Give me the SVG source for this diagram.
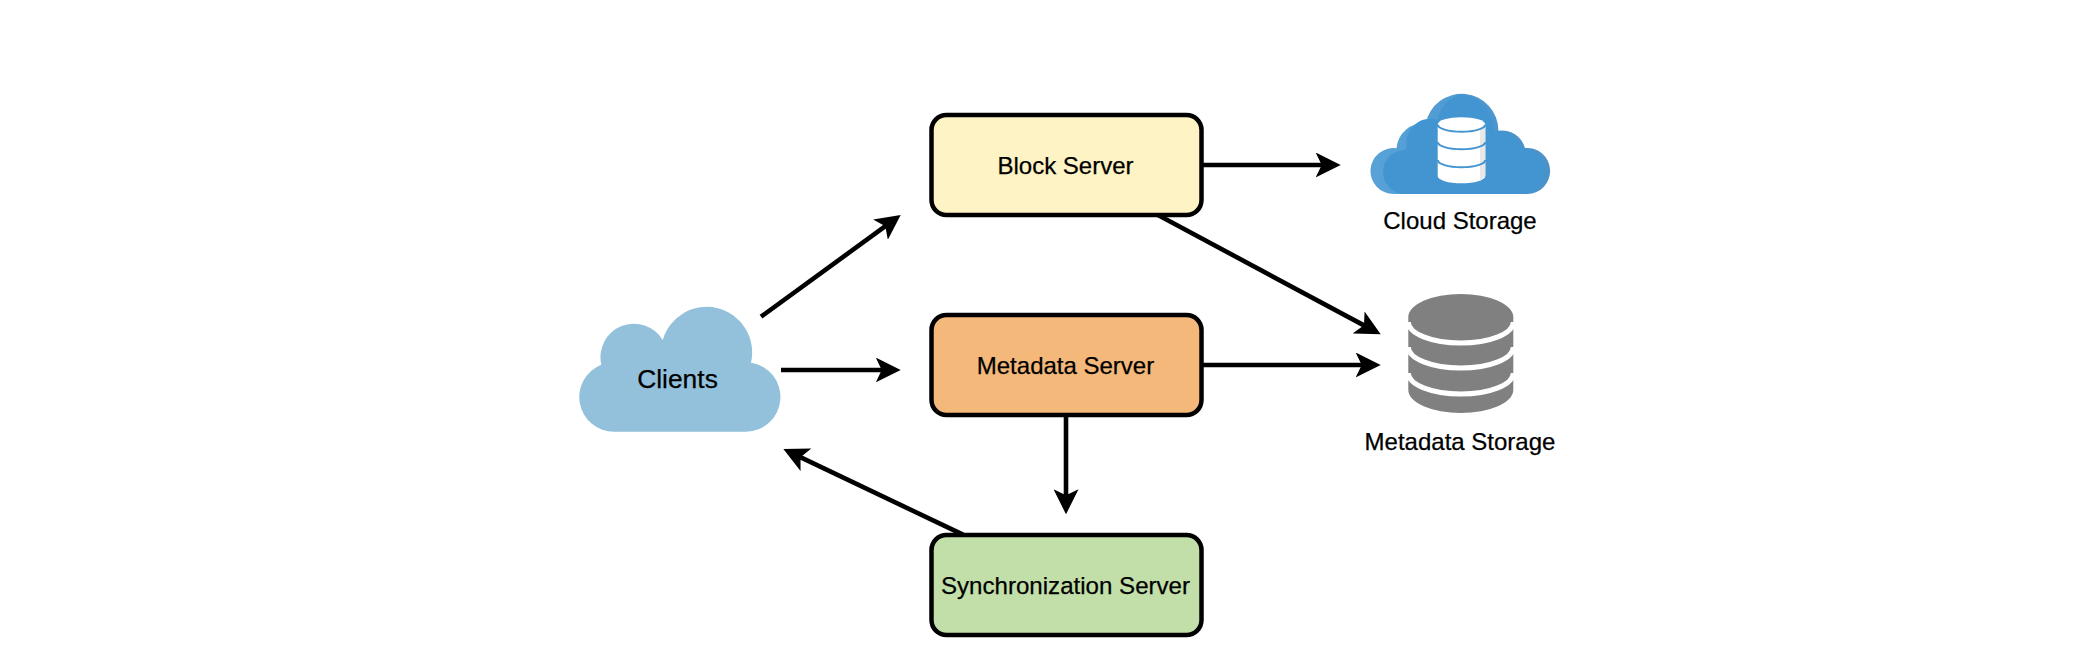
<svg xmlns="http://www.w3.org/2000/svg" width="2100" height="670" viewBox="0 0 2100 670">
  <style>
    text { font-family: "Liberation Sans", Arial, sans-serif; font-size: 24px; fill: #000; text-anchor: middle; stroke: #000; stroke-width: 0.25px; }
    .box { stroke: #000; stroke-width: 4.5; }
    .conn { fill: none; stroke: #000; stroke-width: 4.6; marker-end: url(#arrow); }
    .band { fill: none; stroke: #fff; stroke-width: 5; }
    .sep { fill: none; stroke: #4295D1; stroke-width: 2; }
  </style>
  <defs>
    <marker id="arrow" markerUnits="userSpaceOnUse" markerWidth="25" markerHeight="25" viewBox="0 0 25 25" refX="15" refY="12.5" orient="auto">
      <path d="M0 0 L25 12.5 L0 25 L6 12.5 Z" fill="#000"/>
    </marker>
    <linearGradient id="cloudEdge" x1="0" x2="1" y1="0" y2="0">
      <stop offset="0" stop-color="#58A2D7"/>
      <stop offset="0.5" stop-color="#4E9AD2"/>
      <stop offset="1" stop-color="#4A91C7"/>
    </linearGradient>
  </defs>
  <rect width="2100" height="670" fill="#fff"/>
  <g id="connectors">
    <line class="conn" x1="761" y1="316.7" x2="892.6" y2="220.9"/>
    <line class="conn" x1="781" y1="370" x2="890.7" y2="370"/>
    <line class="conn" x1="1200" y1="165" x2="1330.7" y2="165"/>
    <line class="conn" x1="1157" y1="214.5" x2="1371.9" y2="329.6"/>
    <line class="conn" x1="1200" y1="365" x2="1370.7" y2="365"/>
    <line class="conn" x1="1066" y1="415" x2="1066" y2="504.3"/>
    <line class="conn" x1="963" y1="534.7" x2="792.4" y2="453.3"/>
  </g>
  <g id="clients">
    <path d="M614 431.7 A34.7 34.7 0 0 1 601.3 364.7 A33.5 33.5 0 0 1 662.7 340 A45.6 45.6 0 0 1 751 362.7 A34.7 34.7 0 0 1 746 431.7 Z" fill="#93C1DC"/>
    <text x="677.5" y="387.5" style="font-size:26.4px">Clients</text>
  </g>
  <g id="block-server">
    <rect class="box" x="931.5" y="115" width="270" height="100" rx="15" fill="#FDF3C4"/>
    <text x="1065.5" y="174">Block Server</text>
  </g>
  <g id="metadata-server">
    <rect class="box" x="931.5" y="315" width="270" height="100" rx="15" fill="#F4B87B"/>
    <text x="1065.5" y="374">Metadata Server</text>
  </g>
  <g id="sync-server">
    <rect class="box" x="931.5" y="535" width="270" height="100" rx="15" fill="#C2DFA9"/>
    <text x="1065.5" y="594" style="font-size:24.1px">Synchronization Server</text>
  </g>
  <g id="cloud-storage">
    <path d="M1393.5 194 A23 23 0 1 1 1396.5 148.2 A27 27 0 0 1 1425.7 123.4 A36.7 36.7 0 0 1 1498.4 130.7 A24 24 0 0 1 1525 148.1 A23 23 0 1 1 1527.5 194 Z" fill="url(#cloudEdge)"/>
    <path d="M1405 194 A22 22 0 0 1 1405 150 L1407 148 A24 24 0 0 1 1438 120 A30 30 0 0 1 1463 94.3 A36 36 0 0 1 1494 131 A24 24 0 0 1 1521 148 A23 23 0 0 1 1522 194 Z" fill="#4295D1"/>
    <path d="M1437.7 124.5 A23.8 7.3 0 0 1 1485.3 124.5 V176 A23.8 7.3 0 0 1 1437.7 176 Z" fill="#fff"/>
    <path d="M1480 128 L1485.3 124.5 V176 L1480 181 Z" fill="#E8E8E8"/>
    <path class="sep" d="M1437.7 124.5 A23.8 7.3 0 0 0 1485.3 124.5"/>
    <path class="sep" d="M1437.7 142 A23.8 7.3 0 0 0 1485.3 142"/>
    <path class="sep" d="M1437.7 160 A23.8 7.3 0 0 0 1485.3 160"/>
    <text x="1460" y="229.3">Cloud Storage</text>
  </g>
  <g id="metadata-storage">
    <path d="M1408.3 317 A52.5 23 0 0 1 1513.3 317 V390 A52.5 23 0 0 1 1408.3 390 Z" fill="#808080"/>
    <path class="band" d="M1408.3 322 A52.5 21 0 0 0 1513.3 322"/>
    <path class="band" d="M1408.3 347 A52.5 21 0 0 0 1513.3 347"/>
    <path class="band" d="M1408.3 373 A52.5 21 0 0 0 1513.3 373"/>
    <text x="1460" y="450">Metadata Storage</text>
  </g>
</svg>
